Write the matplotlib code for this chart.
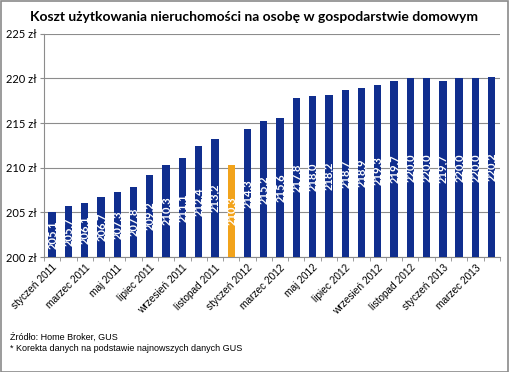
import matplotlib
matplotlib.use("Agg")
import matplotlib.pyplot as plt
from matplotlib.patches import Rectangle

months = ["styczeń", "luty", "marzec", "kwiecień", "maj", "czerwiec", "lipiec",
          "sierpień", "wrzesień", "październik", "listopad", "grudzień"]
years = [2011, 2012, 2013]
categories = [f"{m} {y}" for y in years for m in months][:28]

values = [205.1, 205.7, 206.1, 206.7, 207.3, 207.8, 209.2, 210.3, 211.1, 212.4, 213.2,
          210.3,
          214.3, 215.2, 215.6, 217.8, 218.0, 218.2, 218.7, 218.9, 219.3, 219.7, 220.0, 220.0,
          219.7, 220.0, 220.0, 220.2]
highlight = "grudzień 2011"  # korekta danych

y_ticks = [200, 205, 210, 215, 220, 225]

blue = "#102E8E"
orange = "#F2A31B"

fig = plt.figure(figsize=(5.09, 3.72), dpi=100)
fig.patch.set_facecolor("white")
fig.add_artist(Rectangle((0.001, 0.001), 0.997, 0.996, transform=fig.transFigure,
                         fill=False, edgecolor="#8a8a8a", linewidth=1.2))

ax = fig.add_axes([0.0864, 0.309, 0.8956, 0.6])
x = list(range(len(categories)))
colors = [orange if c == highlight else blue for c in categories]
bars = ax.bar(x, values, width=0.45, color=colors, bottom=0, zorder=3)

ax.set_ylim(200, 225)
ax.set_xlim(-0.5, len(categories) - 0.5)
ax.set_yticks(y_ticks)
ax.set_yticklabels([f"{t} zł" for t in y_ticks], fontsize=8, family="Lato")
ax.yaxis.grid(True, color="#8c8c8c", linewidth=0.8, zorder=0)
ax.tick_params(axis="y", length=3, color="#8c8c8c", pad=2)

ax.set_xticks(x[::2])
ax.set_xticklabels(categories[::2], rotation=45, ha="right", rotation_mode="anchor",
                   fontsize=7.3, family="Liberation Sans")
ax.tick_params(axis="x", length=0, pad=4)
ax.set_xticks([i - 0.5 for i in range(len(categories) + 1)], minor=True)
ax.tick_params(axis="x", which="minor", length=3, color="#8c8c8c")

for s in ["top", "right"]:
    ax.spines[s].set_visible(False)
for s in ["left", "bottom"]:
    ax.spines[s].set_color("#8c8c8c")

# value labels inside bars
for bar, v in zip(bars, values):
    cy = (200 + v) / 2
    ax.text(bar.get_x() + bar.get_width() / 2, cy, f"{v:.1f}".replace(".", ","),
            rotation=90, ha="center", va="center", color="white",
            fontsize=8, fontweight="bold", family="Lato", zorder=4, clip_on=False)

fig.text(0.5, 0.955, "Koszt użytkowania nieruchomości na osobę w gospodarstwie domowym",
         ha="center", va="center", fontsize=10, fontweight="bold", family="Lato")

fig.text(0.02, 0.093, "Źródło: Home Broker, GUS", fontsize=6.5, family="Liberation Sans",
         va="center")
fig.text(0.02, 0.063, "* Korekta danych na podstawie najnowszych danych GUS", fontsize=6.5,
         family="Liberation Sans", va="center")

fig.savefig("out.png", dpi=100)
